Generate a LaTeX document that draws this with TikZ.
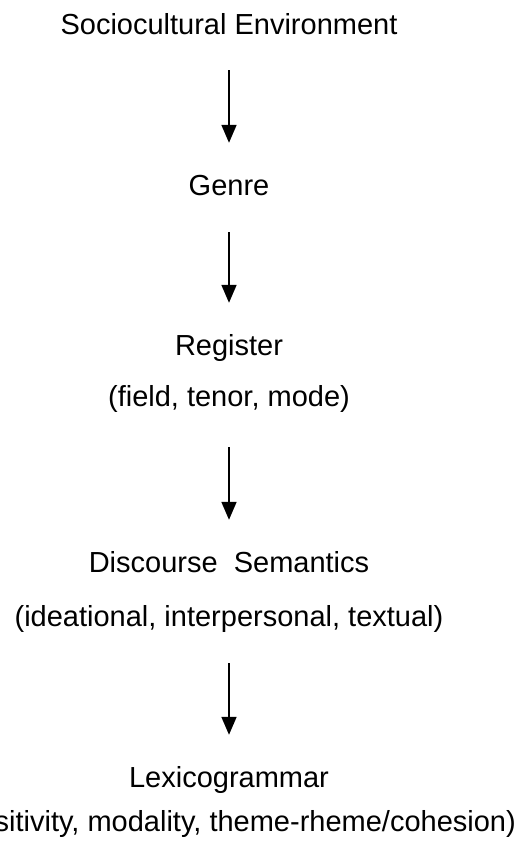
\documentclass[tikz,border=0pt]{standalone}
\usepackage{fontspec}
\setmainfont{Liberation Sans}
\usetikzlibrary{arrows.meta}
\begin{document}
\begin{tikzpicture}[x=1pt,y=1pt,
  lbl/.style={anchor=base,inner sep=0pt,text height=21pt,text depth=6pt,font=\fontsize{29}{34}\selectfont},
  flow/.style={line width=1.8pt,-{Triangle[length=18pt,width=15pt]}}]
\useasboundingbox (0,0) rectangle (525,-849);
\node[lbl] (soc) at (229,-34) {Sociocultural Environment};
\node[lbl] (gen) at (229,-195) {Genre};
\node[lbl] (reg) at (229,-355) {Register};
\node[lbl] (regs) at (229,-406) {(field, tenor, mode)};
\node[lbl] (dis) at (229,-572) {Discourse\ \ Semantics};
\node[lbl] (diss) at (229,-626) {(ideational, interpersonal, textual)};
\node[lbl] (lex) at (229,-787) {Lexicogrammar};
\node[lbl,anchor=base east] (lexs) at (516,-831) {sitivity, modality, theme-rheme/cohesion)};
\draw[flow,shorten <=30pt,shorten >=31pt] (soc.south) -- (gen.north);
\draw[flow,shorten <=31pt,shorten >=31pt] (gen.south) -- (reg.north);
\draw[flow,shorten <=35pt,shorten >=31pt] (regs.south) -- (dis.north);
\draw[flow,shorten <=31pt,shorten >=31pt] (diss.south) -- (lex.north);
\end{tikzpicture}
\end{document}
